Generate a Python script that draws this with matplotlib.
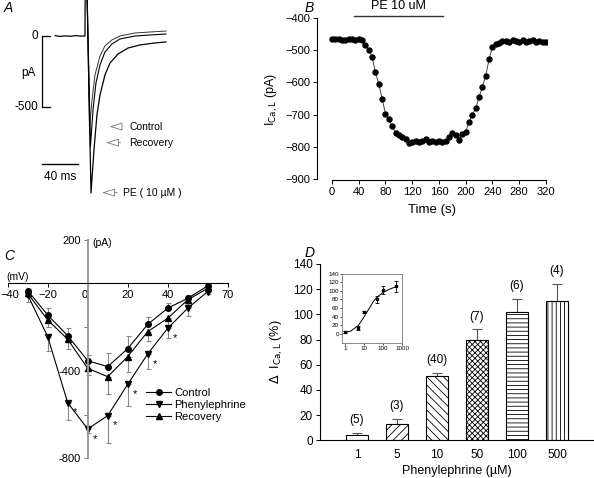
import numpy as np
import matplotlib
matplotlib.use('Agg')
import matplotlib.pyplot as plt
import matplotlib.transforms as mtrans

plt.rcParams['font.family'] = ['Liberation Sans', 'DejaVu Sans']
plt.rcParams['hatch.linewidth'] = 0.6
plt.rcParams['axes.linewidth'] = 0.8

W, H = 594, 478

# ---- panel A: current traces (ms, pA)
base_t = [-33, -28, -22, -16, -10, -5, 0, 0.3]
base_i = [2, -3, 1, -2, 3, -1, 0, 400]
ctrl_t = [0.3, 2.0, 5.0, 7.8, 11.1, 16.7, 22.2, 30, 38.9, 55.6, 72.2, 90]
ctrl_i = [400, 400, -648, -451, -275, -141, -70, -28, 0, 21, 28, 35]
rec_t = [2.0, 6.1, 8.9, 12.2, 16.7, 22.2, 30, 38.9, 55.6, 72.2, 90]
rec_i = [400, -782, -521, -331, -204, -113, -56, -21, 0, 7, 14]
pe_t = [2.0, 6.7, 10, 13.3, 16.7, 22.2, 27.8, 36.7, 47.8, 61.1, 77.8, 90]
pe_i = [400, -1106, -803, -556, -415, -275, -190, -127, -85, -63, -49, -42]

# ---- panel B: time course of ICa,L
time_s = [0, 5, 10, 15, 20, 25, 30, 35, 40, 45, 50, 55, 60, 65, 70, 75, 80,
          85, 90, 95, 100, 105, 110, 115, 120, 125, 130, 135, 140, 145, 150,
          155, 160, 165, 170, 175, 180, 185, 190, 195, 200, 205, 210, 215,
          220, 225, 230, 235, 240, 245, 250, 255, 260, 265, 270, 275, 280,
          285, 290, 295, 300, 305, 310, 315, 320]
ica = [-465, -465, -466, -467, -467, -466, -464, -467, -465, -468, -483, -498,
       -521, -569, -604, -651, -697, -714, -735, -757, -763, -770, -776, -787,
       -784, -782, -785, -783, -776, -786, -783, -785, -783, -785, -782, -770,
       -757, -763, -778, -761, -753, -724, -700, -680, -646, -614, -579, -527,
       -490, -481, -478, -470, -471, -474, -468, -471, -473, -468, -474, -470,
       -468, -474, -471, -474, -474]

# ---- panel C: I-V relation
volt = [-30, -20, -10, 0, 10, 20, 30, 40, 50, 60]
iv_ctrl = [-34, -145, -240, -354, -381, -299, -188, -114, -69, -12]
iv_ctrl_err = [10, 31, 34, 26, 64, 58, 32, 23, 16, 8]
iv_pe = [-53, -244, -546, -666, -605, -462, -323, -206, -114, -38]
iv_pe_err = [31, 65, 79, 20, 124, 99, 70, 45, 36, 10]
iv_rec = [-46, -168, -256, -389, -427, -335, -221, -160, -76, -23]
iv_rec_err = [15, 30, 44, 30, 79, 69, 43, 30, 23, 8]
star_volt = [-10, 0, 10, 20, 30, 40]

# ---- panel D: concentration-response
conc = [1, 5, 10, 50, 100, 500]
conc_labels = ['1', '5', '10', '50', '100', '500']
delta = [4, 13, 51, 80, 102, 110.6]
delta_err = [2, 4, 2.7, 8, 10, 13.4]
n_cells = [5, 3, 40, 7, 6, 4]
hatches = ['', '////', '\\\\\\\\', 'xxxxxx', '----', '||||']
fit_x = [1, 2, 3, 5, 10, 20, 30, 50, 100, 200, 500]
fit_y = [3, 6, 12, 19, 39, 61, 74, 86, 96, 103, 110]


def rect(x0, y0, x1, y1):
    return [x0 / W, 1 - y1 / H, (x1 - x0) / W, (y1 - y0) / H]


fig = plt.figure(figsize=(W / 100, H / 100), dpi=100)

# panel letters
for lab, (px, py) in zip('ABCD', [(4, 8), (305, 8), (4, 256), (305, 253)]):
    fig.text(px / W, 1 - py / H, lab, style='italic', fontsize=10, va='center')

# ================= A
axA = fig.add_axes(rect(0, 0, 200, 200))
axA.set_xlim(-94.4, 127.8)
axA.set_ylim(-1155, 253.5)
axA.axis('off')
axA.plot(base_t, base_i, color='k', lw=0.9)
axA.plot(ctrl_t, ctrl_i, color='#333333', lw=0.7)
axA.plot(rec_t, rec_i, color='k', lw=0.8)
axA.plot(pe_t, pe_i, color='k', lw=0.9)
# scale bars
axA.plot([-47.8, -47.8], [0, -500], color='k', lw=0.9)
axA.plot([-47.8, -39], [0, 0], color='k', lw=0.9)
axA.plot([-47.8, -39], [-500, -500], color='k', lw=0.9)
axA.text(-52, 0, '0', ha='right', va='center', fontsize=8.5)
axA.text(-52, -500, '-500', ha='right', va='center', fontsize=8.5)
axA.text(-63, -260, 'pA', ha='center', va='center', fontsize=8.5)
axA.plot([-47.8, -7.8], [-901, -901], color='k', lw=1.0)
axA.text(-27.8, -990, '40 ms', ha='center', va='center', fontsize=8.5)
arrow_kw = dict(arrowstyle='-|>,head_width=0.25,head_length=0.8',
                color='#777777', lw=0.6, fc='white')
for lab, y0, x_tail, x_head, x_txt in [('Control', -638, 44.4, 24.1, 49.2),
                                       ('Recovery', -751, 42.6, 20.4, 49.2),
                                       ('PE ( 10 \u00b5M )', -1103, 38.9, 15.9, 41.9)]:
    axA.annotate('', xy=(x_head, y0), xytext=(x_tail, y0), arrowprops=arrow_kw)
    axA.text(x_txt, y0, lab, ha='left', va='center', fontsize=7.5)

# ================= B
axB = fig.add_axes(rect(317, 18, 547.3, 180))
axB.plot(time_s, ica, color='#444444', lw=0.7)
axB.plot(time_s, ica, 'o', color='k', ms=3.6)
axB.set_xlim(-22.4, 322)
axB.set_ylim(-903, -400)
for s in ['top', 'right']:
    axB.spines[s].set_visible(False)
axB.spines['left'].set_bounds(-900, -400)
axB.spines['bottom'].set_bounds(0, 320)
axB.set_xticks(range(0, 321, 40))
axB.set_yticks(range(-900, -399, 100))
axB.tick_params(labelsize=8, length=3, width=0.7, pad=2)
axB.set_xlabel('Time (s)', fontsize=9.5, labelpad=5)
axB.set_ylabel(r'I$_{\rm Ca,L}$ (pA)', fontsize=9)
axB.yaxis.set_label_coords(-0.16, 0.5)
axB.plot([33, 166], [-394, -394], color='#333333', lw=1.0, clip_on=False)
axB.text(99, -362, 'PE 10 uM', ha='center', va='center', fontsize=9)

# ================= C
axC = fig.add_axes(rect(7.7, 239.5, 227.7, 458.3))
axC.set_xlim(-40, 70)
axC.set_ylim(-800, 200)
for s in ['top', 'right']:
    axC.spines[s].set_visible(False)
axC.spines['left'].set_position(('data', 0))
axC.spines['bottom'].set_position(('data', 0))
axC.spines['left'].set_color('#999999')
axC.spines['left'].set_linewidth(1.4)
axC.set_xticks([-40, -20, 0, 20, 40, 70])
axC.set_yticks([200, -200, -400, -600, -800])
axC.set_yticklabels(['200', '', '-400', '', '-800'])
axC.tick_params(labelsize=8, length=3, width=0.7, pad=2)
axC.tick_params(axis='y', color='#777777')
xlabs = axC.get_xticklabels()
xlabs[2].set_horizontalalignment('right')
xlabs[0].set_transform(xlabs[0].get_transform() +
                       mtrans.ScaledTranslation(2 / 100, 0, fig.dpi_scale_trans))

ekw = dict(ecolor='#888888', elinewidth=0.8, capsize=1.8, capthick=0.8, zorder=1)
zeros = [0] * len(volt)
axC.errorbar(volt, iv_ctrl, yerr=[zeros, iv_ctrl_err], fmt='none', **ekw)
axC.errorbar(volt, iv_pe, yerr=[iv_pe_err, zeros], fmt='none', **ekw)
axC.errorbar(volt, iv_rec, yerr=[iv_rec_err, zeros], fmt='none', **ekw)
axC.plot(volt, iv_ctrl, '-o', color='k', lw=0.8, ms=4, label='Control')
axC.plot(volt, iv_pe, '-v', color='k', lw=0.8, ms=4.5, label='Phenylephrine')
axC.plot(volt, iv_rec, '-^', color='k', lw=0.8, ms=4.5, label='Recovery')
for v in star_volt:
    axC.annotate('*', xy=(v, iv_pe[volt.index(v)]), xytext=(4, -7),
                 textcoords='offset points', fontsize=8, ha='left', va='center')
axC.text(-35, 28, '(mV)', fontsize=7.5, ha='center', va='center')
axC.text(7, 184, '(pA)', fontsize=7.5, ha='center', va='center')
axC.legend(loc='upper left', bbox_to_anchor=(0.63, 0.32), frameon=False,
           fontsize=8, handlelength=2.2, handletextpad=0.3, labelspacing=0.15,
           borderpad=0, borderaxespad=0)

# ================= D
axD = fig.add_axes(rect(320, 264, 593, 440.3))
pos = np.arange(1, len(conc) + 1)
for i in range(len(conc)):
    axD.bar(pos[i], delta[i], width=0.55, color='white', edgecolor='k',
            linewidth=0.8, hatch=hatches[i], zorder=2)
axD.errorbar(pos, delta, yerr=[[0] * len(conc), delta_err], fmt='none',
             ecolor='#555555', elinewidth=0.8, capsize=3.5, capthick=0.8, zorder=1)
for i in range(len(conc)):
    axD.annotate('(%d)' % n_cells[i], xy=(pos[i], delta[i] + delta_err[i]),
                 xytext=(0, 5), textcoords='offset points', ha='center',
                 va='bottom', fontsize=8.5)
axD.set_xlim(0.075, 6.9)
axD.set_ylim(0, 140)
for s in ['top', 'right']:
    axD.spines[s].set_visible(False)
axD.set_xticks(pos)
axD.set_xticklabels(conc_labels)
axD.set_yticks(range(0, 141, 20))
axD.tick_params(labelsize=8.5, length=3, width=0.7, pad=2)
axD.tick_params(axis='x', length=0, pad=6)
axD.set_xlabel('Phenylephrine (\u00b5M)', fontsize=9, labelpad=3)
axD.set_ylabel(r'$\Delta$  I$_{\rm Ca,L}$ (%)', fontsize=9)
axD.yaxis.set_label_coords(-0.128, 0.5)

# inset
axI = fig.add_axes(rect(342.3, 273.7, 402.3, 342.7))
axI.set_xscale('log')
axI.errorbar(conc, delta, yerr=delta_err, fmt='s', color='k', ms=2,
             elinewidth=0.6, capsize=1.5, capthick=0.6)
axI.plot(fit_x, fit_y, color='k', lw=0.7)
axI.set_xlim(0.72, 1040)
axI.set_ylim(-21, 140)
axI.set_yticks(range(0, 141, 20))
axI.set_xticks([1, 10, 100, 1000])
axI.set_xticklabels(['1', '10', '100', '1000'])
axI.minorticks_off()
axI.tick_params(labelsize=4.5, length=1.5, width=0.5, pad=1)
for s in axI.spines.values():
    s.set_color('#777777')
    s.set_linewidth(0.6)

fig.savefig('out.png', dpi=100)
